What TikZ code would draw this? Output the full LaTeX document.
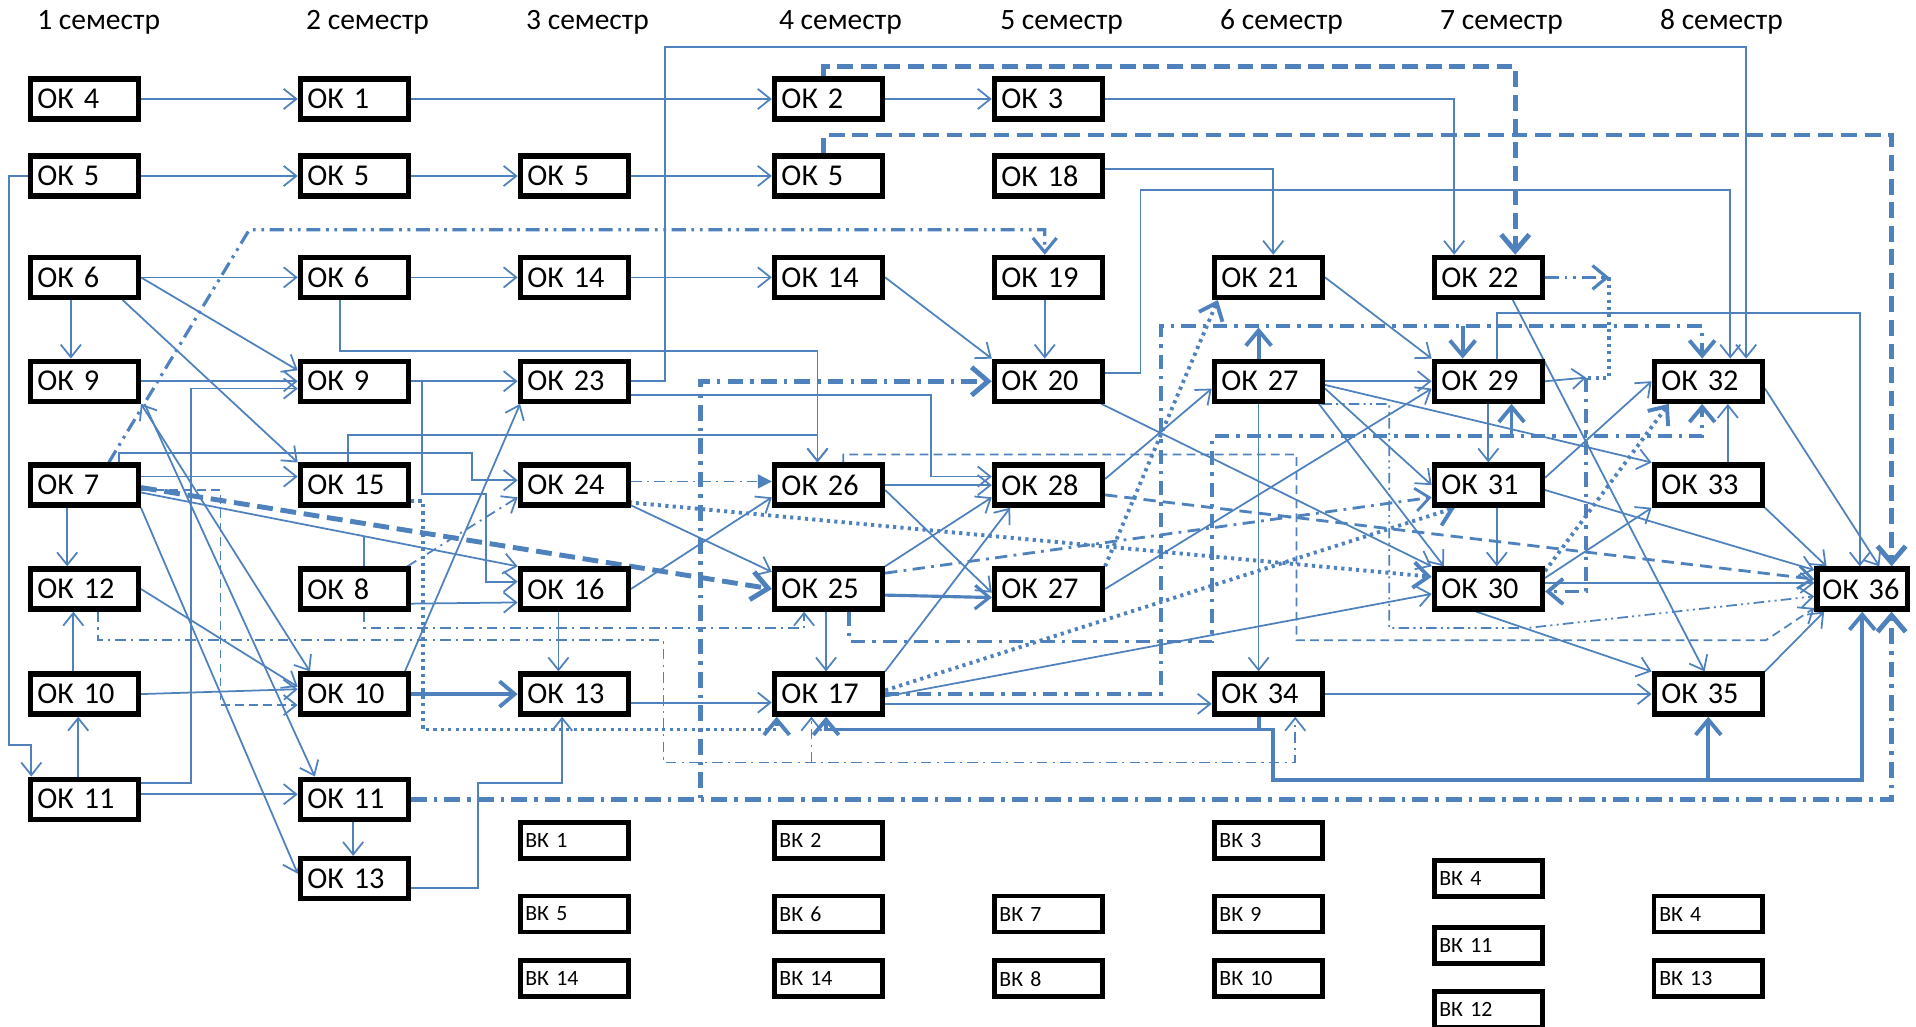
\documentclass[tikz,border=0pt]{standalone}
\usepackage{fontspec}
\setmainfont{Carlito}
\usepackage{xcolor}
\usepackage{tikz}
\usetikzlibrary{arrows.meta, calc}
\definecolor{lblue}{RGB}{79,129,189}
\pgfdeclarelayer{bg}
\pgfsetlayers{bg,main}

\begin{document}
\begin{tikzpicture}[
    x=0.012219cm, y=-0.012219cm,
    okbox/.style={draw=black, line width=1.5pt, fill=white, minimum height=0.40cm, text width=0.94cm, inner xsep=2pt, inner ysep=0pt, align=left, font=\fontsize{8.6}{10}\selectfont},
    vkbox/.style={draw=black, line width=1.4pt, fill=white, minimum height=0.36cm, text width=0.98cm, inner xsep=1.5pt, inner ysep=0pt, align=left, font=\fontsize{6.2}{7}\selectfont},
    sem/.style={font=\fontsize{8.4}{10}\selectfont, anchor=west, inner sep=0pt},
    ln/.style={draw=lblue, line width=0.5pt},
    tk/.style={draw=lblue, line width=1.1pt},
    tkdash/.style={draw=lblue, line width=1.4pt, dash pattern=on 4.5pt off 2.2pt},
    bigdd/.style={draw=lblue, line width=1.4pt, dash pattern=on 4.5pt off 2pt on 1pt off 2pt},
    mdd/.style={draw=lblue, line width=1.1pt, dash pattern=on 4pt off 2pt on 1pt off 2pt},
    tdd/.style={draw=lblue, line width=0.5pt, dash pattern=on 3pt off 1.5pt on 0.6pt off 1.5pt},
    ndd/.style={draw=lblue, line width=0.8pt, dash pattern=on 3.5pt off 1.8pt on 0.8pt off 1.8pt},
    tddd/.style={draw=lblue, line width=0.5pt, dash pattern=on 3pt off 1.2pt on 0.6pt off 1.2pt on 0.6pt off 1.2pt},
    mddd/.style={draw=lblue, line width=0.9pt, dash pattern=on 4pt off 1.6pt on 0.8pt off 1.6pt on 0.8pt off 1.6pt},
    tdash/.style={draw=lblue, line width=0.5pt, dash pattern=on 2.5pt off 1.5pt},
    mdash/.style={draw=lblue, line width=0.8pt, dash pattern=on 3.5pt off 2pt},
    tkdot/.style={draw=lblue, line width=1.1pt, dash pattern=on 0.9pt off 1.2pt},
    >={Straight Barb[length=3pt 1.2, width=4.5pt 2.5]}
]
\useasboundingbox (0,0) rectangle (1568,840);

% semesters
\node[sem] (s1) at (30,18) {1 семестр};
\node[sem] (s2) at (250,18) {2 семестр};
\node[sem] (s3) at (430,18) {3 семестр};
\node[sem] (s4) at (637,18) {4 семестр};
\node[sem] (s5) at (818,18) {5 семестр};
\node[sem] (s6) at (998,18) {6 семестр};
\node[sem] (s7) at (1178,18) {7 семестр};
\node[sem] (s8) at (1358,18) {8 семестр};

% compulsory components
\node[okbox] (ok4) at (69,81) {ОК 4};
\node[okbox] (ok1) at (290,81) {ОК 1};
\node[okbox] (ok2) at (678,81) {ОК 2};
\node[okbox] (ok3) at (858,81) {ОК 3};
\node[okbox] (ok5a) at (69,144) {ОК 5};
\node[okbox] (ok5b) at (290,144) {ОК 5};
\node[okbox] (ok5c) at (470,144) {ОК 5};
\node[okbox] (ok5d) at (678,144) {ОК 5};
\node[okbox] (ok18) at (858,144) {ОК 18};
\node[okbox] (ok6a) at (69,227) {ОК 6};
\node[okbox] (ok6b) at (290,227) {ОК 6};
\node[okbox] (ok14a) at (470,227) {ОК 14};
\node[okbox] (ok14b) at (678,227) {ОК 14};
\node[okbox] (ok19) at (858,227) {ОК 19};
\node[okbox] (ok21) at (1038,227) {ОК 21};
\node[okbox] (ok22) at (1218,227) {ОК 22};
\node[okbox] (ok9a) at (69,312) {ОК 9};
\node[okbox] (ok9b) at (290,312) {ОК 9};
\node[okbox] (ok23) at (470,312) {ОК 23};
\node[okbox] (ok20) at (858,312) {ОК 20};
\node[okbox] (ok27b) at (1038,312) {ОК 27};
\node[okbox] (ok29) at (1218,312) {ОК 29};
\node[okbox] (ok32) at (1398,312) {ОК 32};
\node[okbox] (ok7) at (69,397) {ОК 7};
\node[okbox] (ok15) at (290,397) {ОК 15};
\node[okbox] (ok24) at (470,397) {ОК 24};
\node[okbox] (ok26) at (678,397) {ОК 26};
\node[okbox] (ok28) at (858,397) {ОК 28};
\node[okbox] (ok31) at (1218,397) {ОК 31};
\node[okbox] (ok33) at (1398,397) {ОК 33};
\node[okbox] (ok12) at (69,482) {ОК 12};
\node[okbox] (ok8) at (290,482) {ОК 8};
\node[okbox] (ok16) at (470,482) {ОК 16};
\node[okbox] (ok25) at (678,482) {ОК 25};
\node[okbox] (ok27a) at (858,482) {ОК 27};
\node[okbox] (ok30) at (1218,482) {ОК 30};
\node[okbox, text width=0.80cm, inner xsep=1.5pt] (ok36) at (1524,482) {ОК 36};
\node[okbox] (ok10a) at (69,568) {ОК 10};
\node[okbox] (ok10b) at (290,568) {ОК 10};
\node[okbox] (ok13b) at (470,568) {ОК 13};
\node[okbox] (ok17) at (678,568) {ОК 17};
\node[okbox] (ok34) at (1038,568) {ОК 34};
\node[okbox] (ok35) at (1398,568) {ОК 35};
\node[okbox] (ok11a) at (69,654) {ОК 11};
\node[okbox] (ok11b) at (290,654) {ОК 11};
\node[okbox] (ok13a) at (290,719) {ОК 13};

% elective components
\node[vkbox] (vk1) at (470,688) {ВК 1};
\node[vkbox] (vk2) at (678,688) {ВК 2};
\node[vkbox] (vk3) at (1038,688) {ВК 3};
\node[vkbox] (vk4a) at (1218,719) {ВК 4};
\node[vkbox] (vk5) at (470,748) {ВК 5};
\node[vkbox] (vk6) at (678,748) {ВК 6};
\node[vkbox] (vk7) at (858,748) {ВК 7};
\node[vkbox] (vk9) at (1038,748) {ВК 9};
\node[vkbox] (vk4b) at (1398,748) {ВК 4};
\node[vkbox] (vk11) at (1218,774) {ВК 11};
\node[vkbox] (vk14a) at (470,801) {ВК 14};
\node[vkbox] (vk14b) at (678,801) {ВК 14};
\node[vkbox] (vk8) at (858,801) {ВК 8};
\node[vkbox] (vk10) at (1038,801) {ВК 10};
\node[vkbox] (vk13) at (1398,801) {ВК 13};
\node[vkbox] (vk12) at (1218,826) {ВК 12};

\coordinate (t22) at (1317,227);
\coordinate (t29) at (1298,309);
\coordinate (t27) at (1030,268);
\coordinate (t17) at (1197,267);
\coordinate (t25) at (1237,357);
\coordinate (t34) at (1398,638);
\coordinate (t12) at (664,624);

\begin{pgfonlayer}{bg}
% rows 1--2
\draw[ln,->] (ok4) -- (ok1);
\draw[ln,->] (ok1) -- (ok2);
\draw[ln,->] (ok2) -- (ok3);
\draw[ln,->] (ok3.east) -| ($(ok22.north)+(-28,0)$);
\draw[ln,->] (ok5a) -- (ok5b);
\draw[ln,->] (ok5b) -- (ok5c);
\draw[ln,->] (ok5c) -- (ok5d);
\draw[ln,->] (ok5a.west) -- ++(-15,0) |- ($(ok11a.north west)+(3,-26)$) -- ($(ok11a.north west)+(3,0)$);
\draw[ln,->] ($(ok18.east)+(0,-6)$) -| ($(ok21.north)+(4,0)$);
\draw[ln,->] ($(ok20.east)+(0,-7)$) -- ++(29,0) |- ($(ok32.north)+(18,-138)$) -- ($(ok32.north)+(18,0)$);
\draw[ln,->] (ok23.east) -- ++(28,0) |- ($(ok32.north)+(31,-255)$) -- ($(ok32.north)+(31,0)$);
\draw[tkdash,->] ($(ok2.north)+(-4,0)$) |- ($(ok22.north)+(22,-154)$) -- ($(ok22.north)+(22,0)$);
\draw[tkdash,->] ($(ok5d.north)+(-4,0)$) |- ($(ok36.north)+(24,-353)$) -- ($(ok36.north)+(24,0)$);

% row 3
\draw[ln,->] (ok6a) -- (ok6b);
\draw[ln,->] (ok6b) -- (ok14a);
\draw[ln,->] (ok14a) -- (ok14b);
\draw[ln,->] (ok14b.east) -- (ok20.north west);
\draw[ln,->] ($(ok19.south)+(-3,0)$) -- ($(ok20.north)+(-3,0)$);
\draw[ln,->] ($(ok6a.south)+(-11,0)$) -- ($(ok9a.north)+(-11,0)$);
\draw[ln,->] (ok6a.east) -- ($(ok9b.west)+(0,-9)$);
\draw[ln,->] ($(ok6a.south east)+(-15,0)$) -- (ok15.north west);
\draw[ln,->] ($(ok6b.south)+(-12,0)$) |- (669,287) -- ($(ok26.north)+(-9,0)$);
\draw[ln,->] ($(ok15.north)+(-5,0)$) |- (669,356) -- ($(ok26.north)+(-9,0)$);
\draw[mddd,->] ($(ok7.north)+(20,0)$) -- (204,188) -| ($(ok19.north)+(-3,0)$);

% rows 4--9, left part
\draw[ln,->] (ok9a) -- (ok9b);
\draw[ln,->] (ok9b) -- (ok23);
\draw[ln,->] (ok9b.east) -- ++(9,0) |- (398,404) |- ($(ok16.west)+(0,-6)$);
\draw[ln,->] ($(ok11a.east)+(0,-13)$) -- ++(41,0) |- ($(ok9b.west)+(0,6)$);
\draw[ln,<->] (ok9a.south east) -- ($(ok10b.north west)+(10,0)$);
\draw[ln,->] ($(ok9a.south east)+(3,0)$) -- ($(ok11b.north west)+(14,0)$);
\draw[ln,->] (ok7.south east) -- ($(ok13a.west)+(0,-4)$);
\draw[ln,->] ($(ok7.east)+(0,-7)$) -- ($(ok15.west)+(0,-7)$);
\draw[ln,->] ($(ok7.north east)+(-18,0)$) |- (386,371) |- ($(ok24.west)+(0,-4)$);
\draw[ln,->] ($(ok7.south)+(-14,0)$) -- ($(ok12.north)+(-14,0)$);
\draw[ln,->] ($(ok7.east)+(0,6)$) -- coordinate[pos=0.592] (j8) (ok16.north west);
\draw[ln] (ok8.north -| j8) -- (j8);
\draw[tkdash,->] ($(ok7.east)+(0,2)$) -- (ok25.west);
\draw[tdash,->] ($(ok7.east)+(0,4)$) -- ++(65,0) |- ($(ok10b.west)+(0,9)$);
\draw[ln,->] (ok12.east) -- ($(ok10b.west)+(0,-6)$);
\draw[ln,->] (ok10a.east) -- ($(ok10b.west)+(0,-4)$);
\draw[ln,->] ($(ok10a.north)+(-9,0)$) -- ($(ok12.south)+(-9,0)$);
\draw[ln,->] ($(ok11a.north)+(-5,0)$) -- ($(ok10a.south)+(-5,0)$);
\draw[ln,->] ($(ok11a.east)+(0,-4)$) -- ($(ok11b.west)+(0,-4)$);
\draw[ln,->] ($(ok11b.south)+(-1,0)$) -- ($(ok13a.north)+(-1,0)$);
\draw[ln,->] ($(ok13a.east)+(0,8)$) -| (391,641) -| ($(ok13b.south)+(-10,0)$);
\draw[tk,->] (ok10b) -- (ok13b);
\draw[ln,->] ($(ok10b.north east)+(-5,0)$) -- ($(ok23.south west)+(2,0)$);
\draw[ln,->] ($(ok8.east)+(0,12)$) -- ($(ok16.west)+(0,11)$);
\draw[tdd,->] ($(ok8.north east)+(-3,0)$) -- ($(ok24.west)+(0,10)$);
\draw[ln,->] ($(ok16.south)+(-13,0)$) -- ($(ok13b.north)+(-13,0)$);
\draw[ln,->] (ok16.east) -- ($(ok26.west)+(0,10)$);
\draw[ln,->] ($(ok24.south east)+(0,-2)$) -- ($(ok25.west)+(0,-14)$);
\draw[tdd,-{Triangle[length=4pt,width=4pt]}] ($(ok24.east)+(0,-3)$) -- ($(ok26.west)+(0,-3)$);
\draw[tkdot,->] ($(ok24.south east)+(-8,-5)$) -- ($(ok30.west)+(0,-10)$);
\draw[ln,->] ($(ok13b.east)+(0,7)$) -- ($(ok17.west)+(0,7)$);
\draw[tkdot,->] ($(ok15.east)+(0,13)$) -| (346,597) -| ($(ok17.south west)+(4,0)$);
\draw[tdd,->] ($(ok12.south)+(11,0)$) |- (543,524) |- (1060,624) -- ($(ok34.south)+(22,0)$);
\draw[tdd,->] (t12) -- ($(ok17.south)+(-14,0)$);
\draw[tdd,->] ($(ok8.south)+(8,0)$) |- (658,514) -- ($(ok25.south)+(-20,0)$);
\draw[bigdd,->] (ok11b.east) -| ($(ok36.south)+(24,0)$);
\draw[bigdd,->] (ok11b.east) -- (573,654) |- (ok20.west);

% middle part
\draw[ln,->] ($(ok23.east)+(0,11)$) -| (762,390) -- ($(ok28.west)+(0,-7)$);
\draw[ln,->] (ok26) -- (ok28);
\draw[ln,->] ($(ok26.east)+(0,4)$) -- ($(ok27a.west)+(0,3)$);
\draw[ln,->] (ok25.north east) -- ($(ok28.west)+(0,10)$);
\draw[ln,line width=0.9pt,->] ($(ok25.east)+(0,5)$) -- ($(ok27a.west)+(0,7)$);
\draw[ln,->] ($(ok25.south)+(-2,0)$) -- ($(ok17.north)+(-2,0)$);
\draw[ndd,->] ($(ok25.east)+(0,-13)$) -- ($(ok31.west)+(0,10)$);
\draw[ln,->] (ok17.north east) -- ($(ok28.south west)+(15,0)$);
\draw[tkdot,->] ($(ok17.east)+(0,-3)$) -- ($(ok31.south west)+(19,0)$);
\draw[ln,->] ($(ok17.east)+(0,2)$) -- ($(ok30.west)+(0,4)$);
\draw[ln,->] ($(ok17.east)+(0,8)$) -- ($(ok34.west)+(0,8)$);
\draw[mdd,->] (ok17.east) -| (950,267) -| ($(ok32.north)+(-5,0)$);
\draw[tk,->] (t17) -- ($(ok29.north)+(-21,0)$);
\draw[mdd,->] ($(ok25.south)+(17,0)$) -- (695,525) -| (992,357) -| ($(ok32.south)+(-5,0)$);
\draw[tk,->] (t25) -- ($(ok29.south)+(19,0)$);
\draw[tk,->] ($(ok34.south)+(-8,0)$) |- (676,597) -- ($(ok17.south)+(-2,0)$);
\draw[tk,->] ($(ok34.south)+(-8,0)$) |- (1042,597) |- (1524,638) -- (ok36.south);
\draw[tk,->] (t34) -- (ok35.south);
\draw[ln,->] ($(ok28.east)+(0,-5)$) -- ($(ok27b.west)+(0,6)$);
\draw[tkdot,->] (ok27a.north east) -- ($(ok21.south west)+(5,0)$);
\draw[ln,->] (ok27a.east) -- ($(ok29.west)+(0,6)$);
\draw[ln,->] ($(ok20.south east)+(-3,0)$) -- (ok30.north west);
\draw[mdash,->] ($(ok28.east)+(0,8)$) -- ($(ok36.west)+(0,-8)$);
\draw[tdash,->] ($(ok26.north)+(12,0)$) |- (1061,372) |- (1445,524) -- ($(ok36.south west)+(0,-3)$);

% right part
\draw[mddd,->] (ok22.east) -- (t22);
\draw[tkdot] (t22) |- (t29);
\draw[ln,->] (ok29.east) -- (t29);
\draw[mdd,->] (t29) |- ($(ok30.east)+(0,2)$);
\draw[ln,->] (ok21.east) -- (ok29.north west);
\draw[ln,->] (ok27b.east) -- (ok29.west);
\draw[tk,->] ($(ok27b.north)+(-8,0)$) -- (t27);
\draw[ln,->] ($(ok29.north)+(7,0)$) |- (1522,256) -- ($(ok36.north)+(-2,0)$);
\draw[ln,->] ($(ok27b.east)+(0,6)$) -- (ok31.west);
\draw[ln,->] ($(ok27b.south east)+(-5,0)$) -- ($(ok30.north west)+(10,0)$);
\draw[ln,->] ($(ok27b.east)+(0,3)$) -- (ok33.north west);
\draw[ln,->] ($(ok27b.south)+(-8,0)$) -- ($(ok34.north)+(-8,0)$);
\draw[tddd,->] ($(ok27b.south east)+(-3,0)$) -| (1137,514) -- (1249,514) -- ($(ok36.west)+(0,6)$);
\draw[ln,->] (ok29) -- (ok31);
\draw[ln,->] ($(ok31.south)+(7,0)$) -- ($(ok30.north)+(7,0)$);
\draw[ln,->] ($(ok31.east)+(0,-6)$) -- (ok32.west);
\draw[ln,->] ($(ok31.east)+(0,4)$) -- ($(ok36.north west)+(0,3)$);
\draw[ln,->] ($(ok30.east)+(0,-5)$) -- ($(ok36.west)+(0,-5)$);
\draw[ln,->] ($(ok30.east)+(0,-9)$) -- (ok33.south west);
\draw[tkdot,->] ($(ok30.north east)+(0,4)$) -- ($(ok32.south west)+(14,0)$);
\draw[ln,->] ($(ok30.south)+(-10,0)$) -- (ok35.north west);
\draw[ln,->] ($(ok33.north)+(16,0)$) -- ($(ok32.south)+(16,0)$);
\draw[ln,->] (ok33.south east) -- ($(ok36.north west)+(10,0)$);
\draw[ln,->] ($(ok32.east)+(0,6)$) -- ($(ok36.north)+(14,0)$);
\draw[ln,->] ($(ok22.south)+(20,0)$) -- ($(ok35.north)+(-3,0)$);
\draw[ln,->] (ok34) -- (ok35);
\draw[ln,->] (ok35.north east) -- ($(ok36.south west)+(8,0)$);
\end{pgfonlayer}
\end{tikzpicture}
\end{document}
